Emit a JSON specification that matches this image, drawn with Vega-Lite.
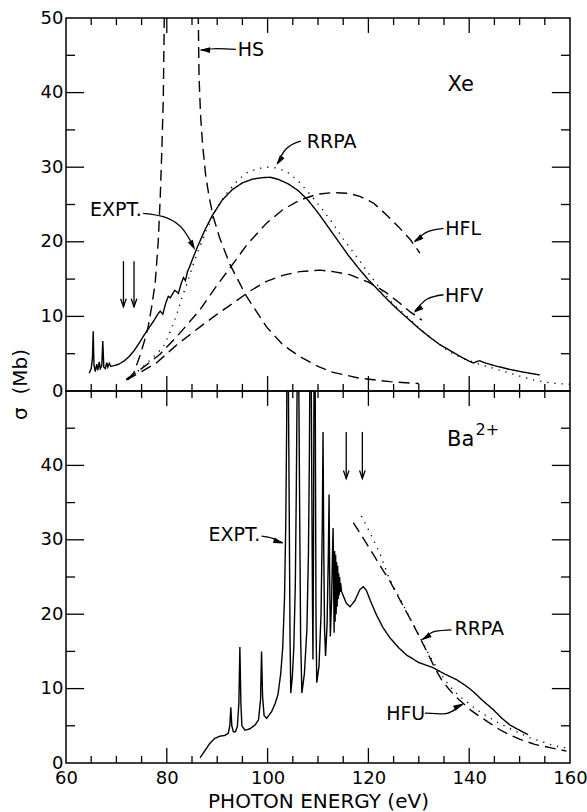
{
"$schema": "https://vega.github.io/schema/vega-lite/v6.json",
"padding": {"left": 9, "top": 8, "right": 5, "bottom": 0},
"background": "white",
"spacing": 0,
"bounds": "flush",
"resolve": {"scale": {"strokeDash": "independent"}},
"config": {
  "view": {"stroke": "black", "strokeWidth": 1.5},
  "concat": {"spacing": 0},
  "font": "DejaVu Sans",
  "axis": {"grid": false, "domain": false, "ticks": false, "labelFont": "DejaVu Sans", "labelFontSize": 18, "labelColor": "black", "labelFlush": false, "labelOverlap": false, "titleFont": "DejaVu Sans", "titleFontSize": 20, "titleFontWeight": "normal", "titleColor": "black"}
},
"datasets": {
  "vt": [
    {"x":80,"y":0,"y2":2},{"x":100,"y":0,"y2":2},{"x":120,"y":0,"y2":2},{"x":140,"y":0,"y2":2},
    {"x":80,"y":50,"y2":48},{"x":100,"y":50,"y2":48},{"x":120,"y":50,"y2":48},{"x":140,"y":50,"y2":48},
    {"x":65,"y":0,"y2":0.95},{"x":70,"y":0,"y2":0.95},{"x":75,"y":0,"y2":0.95},{"x":85,"y":0,"y2":0.95},{"x":90,"y":0,"y2":0.95},{"x":95,"y":0,"y2":0.95},{"x":105,"y":0,"y2":0.95},{"x":110,"y":0,"y2":0.95},{"x":115,"y":0,"y2":0.95},{"x":125,"y":0,"y2":0.95},{"x":130,"y":0,"y2":0.95},{"x":135,"y":0,"y2":0.95},{"x":145,"y":0,"y2":0.95},{"x":150,"y":0,"y2":0.95},{"x":155,"y":0,"y2":0.95},
    {"x":65,"y":50,"y2":49.05},{"x":70,"y":50,"y2":49.05},{"x":75,"y":50,"y2":49.05},{"x":85,"y":50,"y2":49.05},{"x":90,"y":50,"y2":49.05},{"x":95,"y":50,"y2":49.05},{"x":105,"y":50,"y2":49.05},{"x":110,"y":50,"y2":49.05},{"x":115,"y":50,"y2":49.05},{"x":125,"y":50,"y2":49.05},{"x":130,"y":50,"y2":49.05},{"x":135,"y":50,"y2":49.05},{"x":145,"y":50,"y2":49.05},{"x":150,"y":50,"y2":49.05},{"x":155,"y":50,"y2":49.05}
  ],
  "ht": [
    {"y":10,"x":60,"x2":63.6},{"y":20,"x":60,"x2":63.6},{"y":30,"x":60,"x2":63.6},{"y":40,"x":60,"x2":63.6},
    {"y":10,"x":160,"x2":156.4},{"y":20,"x":160,"x2":156.4},{"y":30,"x":160,"x2":156.4},{"y":40,"x":160,"x2":156.4},
    {"y":5,"x":60,"x2":61.8},{"y":15,"x":60,"x2":61.8},{"y":25,"x":60,"x2":61.8},{"y":35,"x":60,"x2":61.8},{"y":45,"x":60,"x2":61.8},
    {"y":5,"x":160,"x2":158.2},{"y":15,"x":160,"x2":158.2},{"y":25,"x":160,"x2":158.2},{"y":35,"x":160,"x2":158.2},{"y":45,"x":160,"x2":158.2}
  ],
  "xe": [
    {"s":"EXPT","x":64.6,"y":2.4},{"s":"EXPT","x":65.0,"y":3.0},{"s":"EXPT","x":65.25,"y":4.5},{"s":"EXPT","x":65.4,"y":8.0},{"s":"EXPT","x":65.55,"y":3.5},{"s":"EXPT","x":65.8,"y":2.6},{"s":"EXPT","x":66.1,"y":3.6},{"s":"EXPT","x":66.3,"y":2.8},{"s":"EXPT","x":66.6,"y":3.9},{"s":"EXPT","x":66.8,"y":3.0},{"s":"EXPT","x":67.1,"y":3.4},{"s":"EXPT","x":67.3,"y":6.7},{"s":"EXPT","x":67.5,"y":3.2},{"s":"EXPT","x":67.8,"y":3.0},{"s":"EXPT","x":68.1,"y":3.8},{"s":"EXPT","x":68.3,"y":3.2},{"s":"EXPT","x":68.6,"y":3.7},{"s":"EXPT","x":68.9,"y":3.3},{"s":"EXPT","x":69.5,"y":3.4},{"s":"EXPT","x":70.5,"y":3.6},{"s":"EXPT","x":71.5,"y":4.0},{"s":"EXPT","x":72.5,"y":4.6},{"s":"EXPT","x":73.5,"y":5.4},{"s":"EXPT","x":74.5,"y":6.4},{"s":"EXPT","x":75.5,"y":7.5},{"s":"EXPT","x":76.5,"y":8.5},{"s":"EXPT","x":77.5,"y":9.5},{"s":"EXPT","x":78.3,"y":10.4},{"s":"EXPT","x":78.7,"y":10.7},{"s":"EXPT","x":79.2,"y":10.3},{"s":"EXPT","x":79.8,"y":11.8},{"s":"EXPT","x":80.3,"y":12.7},{"s":"EXPT","x":80.7,"y":12.5},{"s":"EXPT","x":81.3,"y":13.2},{"s":"EXPT","x":81.6,"y":13.5},{"s":"EXPT","x":82.3,"y":13.1},{"s":"EXPT","x":82.9,"y":14.5},{"s":"EXPT","x":83.3,"y":15.2},{"s":"EXPT","x":83.7,"y":14.8},{"s":"EXPT","x":84.1,"y":16.0},{"s":"EXPT","x":84.5,"y":16.6},{"s":"EXPT","x":85.0,"y":17.5},{"s":"EXPT","x":86.0,"y":19.2},{"s":"EXPT","x":87.5,"y":21.5},{"s":"EXPT","x":89.0,"y":23.5},{"s":"EXPT","x":91.0,"y":25.6},{"s":"EXPT","x":93.0,"y":27.0},{"s":"EXPT","x":95.0,"y":27.9},{"s":"EXPT","x":97.0,"y":28.4},{"s":"EXPT","x":99.0,"y":28.6},{"s":"EXPT","x":100.5,"y":28.65},{"s":"EXPT","x":102.0,"y":28.4},{"s":"EXPT","x":104.0,"y":27.8},{"s":"EXPT","x":106.0,"y":26.9},{"s":"EXPT","x":108.0,"y":25.6},{"s":"EXPT","x":110.0,"y":23.9},{"s":"EXPT","x":112.0,"y":22.0},{"s":"EXPT","x":114.0,"y":20.1},{"s":"EXPT","x":116.0,"y":18.2},{"s":"EXPT","x":118.0,"y":16.5},{"s":"EXPT","x":120.0,"y":14.9},{"s":"EXPT","x":122.0,"y":13.5},{"s":"EXPT","x":124.0,"y":12.1},{"s":"EXPT","x":126.0,"y":10.8},{"s":"EXPT","x":128.0,"y":9.6},{"s":"EXPT","x":130.0,"y":8.4},{"s":"EXPT","x":132.0,"y":7.3},{"s":"EXPT","x":134.0,"y":6.3},{"s":"EXPT","x":136.0,"y":5.5},{"s":"EXPT","x":138.0,"y":4.7},{"s":"EXPT","x":140.0,"y":4.0},{"s":"EXPT","x":140.8,"y":3.75},{"s":"EXPT","x":141.5,"y":3.95},{"s":"EXPT","x":142.1,"y":4.05},{"s":"EXPT","x":143.0,"y":3.8},{"s":"EXPT","x":145.0,"y":3.4},{"s":"EXPT","x":148.0,"y":2.9},{"s":"EXPT","x":151.0,"y":2.5},{"s":"EXPT","x":154.0,"y":2.15},
    {"s":"RRPA","x":72.0,"y":1.5},{"s":"RRPA","x":74.0,"y":2.5},{"s":"RRPA","x":76.0,"y":3.7},{"s":"RRPA","x":78.0,"y":5.0},{"s":"RRPA","x":79.3,"y":5.9},{"s":"RRPA","x":80.0,"y":6.9},{"s":"RRPA","x":81.0,"y":8.5},{"s":"RRPA","x":82.0,"y":10.3},{"s":"RRPA","x":83.0,"y":12.5},{"s":"RRPA","x":84.0,"y":14.4},{"s":"RRPA","x":85.0,"y":16.5},{"s":"RRPA","x":86.0,"y":18.4},{"s":"RRPA","x":88.0,"y":21.8},{"s":"RRPA","x":90.0,"y":24.6},{"s":"RRPA","x":92.0,"y":26.6},{"s":"RRPA","x":94.0,"y":28.2},{"s":"RRPA","x":96.0,"y":29.3},{"s":"RRPA","x":98.0,"y":29.8},{"s":"RRPA","x":100.0,"y":30.0},{"s":"RRPA","x":102.0,"y":29.9},{"s":"RRPA","x":104.0,"y":29.3},{"s":"RRPA","x":106.0,"y":28.2},{"s":"RRPA","x":108.0,"y":26.7},{"s":"RRPA","x":110.7,"y":24.5},{"s":"RRPA","x":113.0,"y":22.4},{"s":"RRPA","x":115.0,"y":20.4},{"s":"RRPA","x":118.0,"y":17.7},{"s":"RRPA","x":120.0,"y":15.8},{"s":"RRPA","x":122.0,"y":14.0},{"s":"RRPA","x":125.0,"y":11.6},{"s":"RRPA","x":128.3,"y":9.6},{"s":"RRPA","x":130.2,"y":8.3},{"s":"RRPA","x":133.0,"y":6.8},{"s":"RRPA","x":136.0,"y":5.3},{"s":"RRPA","x":139.0,"y":4.3},{"s":"RRPA","x":142.0,"y":3.6},{"s":"RRPA","x":146.0,"y":2.8},{"s":"RRPA","x":150.0,"y":2.0},{"s":"RRPA","x":152.6,"y":1.5},{"s":"RRPA","x":155.0,"y":1.2},{"s":"RRPA","x":157.4,"y":1.0},{"s":"RRPA","x":160.0,"y":0.9},
    {"s":"HFL","x":72.0,"y":1.6},{"s":"HFL","x":75.0,"y":3.0},{"s":"HFL","x":78.6,"y":4.9},{"s":"HFL","x":82.0,"y":7.3},{"s":"HFL","x":86.6,"y":10.9},{"s":"HFL","x":90.0,"y":14.2},{"s":"HFL","x":93.2,"y":17.1},{"s":"HFL","x":96.0,"y":19.7},{"s":"HFL","x":99.8,"y":22.5},{"s":"HFL","x":103.0,"y":24.3},{"s":"HFL","x":106.4,"y":25.6},{"s":"HFL","x":110.0,"y":26.4},{"s":"HFL","x":113.0,"y":26.6},{"s":"HFL","x":116.0,"y":26.5},{"s":"HFL","x":118.3,"y":26.1},{"s":"HFL","x":121.0,"y":25.2},{"s":"HFL","x":123.3,"y":23.8},{"s":"HFL","x":126.0,"y":22.0},{"s":"HFL","x":128.3,"y":20.3},{"s":"HFL","x":130.2,"y":18.5},
    {"s":"HFV","x":72.0,"y":1.5},{"s":"HFV","x":75.0,"y":2.6},{"s":"HFV","x":78.0,"y":3.8},{"s":"HFV","x":82.0,"y":6.2},{"s":"HFV","x":86.6,"y":8.6},{"s":"HFV","x":90.0,"y":10.3},{"s":"HFV","x":93.2,"y":11.8},{"s":"HFV","x":96.5,"y":13.4},{"s":"HFV","x":99.8,"y":14.7},{"s":"HFV","x":103.0,"y":15.5},{"s":"HFV","x":106.4,"y":16.0},{"s":"HFV","x":110.4,"y":16.2},{"s":"HFV","x":113.0,"y":16.0},{"s":"HFV","x":116.3,"y":15.6},{"s":"HFV","x":120.0,"y":14.6},{"s":"HFV","x":123.3,"y":13.3},{"s":"HFV","x":126.0,"y":11.9},{"s":"HFV","x":128.3,"y":10.6},{"s":"HFV","x":130.6,"y":9.5},
    {"s":"HS","x":72.3,"y":1.5},{"s":"HS","x":73.5,"y":2.5},{"s":"HS","x":74.7,"y":4.8},{"s":"HS","x":75.6,"y":6.8},{"s":"HS","x":76.3,"y":8.6},{"s":"HS","x":77.0,"y":11.3},{"s":"HS","x":77.7,"y":14.5},{"s":"HS","x":78.3,"y":20.0},{"s":"HS","x":78.7,"y":26.0},{"s":"HS","x":79.0,"y":32.0},{"s":"HS","x":79.3,"y":39.0},{"s":"HS","x":79.5,"y":50.0},{"s":"HS","x":79.6,"y":60.0},{"s":"HS","x":86.15,"y":60.0},{"s":"HS","x":86.25,"y":50.0},{"s":"HS","x":86.4,"y":42.0},{"s":"HS","x":86.7,"y":37.0},{"s":"HS","x":87.1,"y":33.0},{"s":"HS","x":87.7,"y":29.0},{"s":"HS","x":88.4,"y":26.0},{"s":"HS","x":89.2,"y":23.4},{"s":"HS","x":90.5,"y":20.5},{"s":"HS","x":92.5,"y":17.0},{"s":"HS","x":95.8,"y":12.7},{"s":"HS","x":99.8,"y":8.6},{"s":"HS","x":103.0,"y":6.2},{"s":"HS","x":106.4,"y":4.6},{"s":"HS","x":110.0,"y":3.3},{"s":"HS","x":113.0,"y":2.5},{"s":"HS","x":118.0,"y":1.75},{"s":"HS","x":124.3,"y":1.25},{"s":"HS","x":130.0,"y":1.0}
  ],
  "ba": [
    {"s":"EXPT","x":86.6,"y":0.7},{"s":"EXPT","x":87.5,"y":1.6},{"s":"EXPT","x":88.5,"y":2.6},{"s":"EXPT","x":89.5,"y":3.3},{"s":"EXPT","x":90.5,"y":3.6},{"s":"EXPT","x":91.5,"y":3.7},{"s":"EXPT","x":92.2,"y":4.0},{"s":"EXPT","x":92.5,"y":5.0},{"s":"EXPT","x":92.7,"y":7.5},{"s":"EXPT","x":92.9,"y":5.0},{"s":"EXPT","x":93.2,"y":4.2},{"s":"EXPT","x":93.6,"y":4.2},{"s":"EXPT","x":94.0,"y":4.9},{"s":"EXPT","x":94.3,"y":8.0},{"s":"EXPT","x":94.5,"y":15.6},{"s":"EXPT","x":94.7,"y":8.0},{"s":"EXPT","x":94.9,"y":5.0},{"s":"EXPT","x":95.5,"y":4.4},{"s":"EXPT","x":96.5,"y":4.6},{"s":"EXPT","x":97.5,"y":5.1},{"s":"EXPT","x":98.2,"y":5.8},{"s":"EXPT","x":98.6,"y":8.5},{"s":"EXPT","x":98.8,"y":15.0},{"s":"EXPT","x":99.0,"y":9.0},{"s":"EXPT","x":99.3,"y":6.4},{"s":"EXPT","x":99.8,"y":6.0},{"s":"EXPT","x":100.8,"y":6.9},{"s":"EXPT","x":101.5,"y":8.0},{"s":"EXPT","x":102.06,"y":9.2},{"s":"EXPT","x":102.6,"y":12.0},{"s":"EXPT","x":103.0,"y":15.5},{"s":"EXPT","x":103.35,"y":22},{"s":"EXPT","x":103.6,"y":32},{"s":"EXPT","x":103.78,"y":45},{"s":"EXPT","x":103.9,"y":60},{"s":"EXPT","x":104.05,"y":60},{"s":"EXPT","x":104.15,"y":48},{"s":"EXPT","x":104.3,"y":33},{"s":"EXPT","x":104.45,"y":17},{"s":"EXPT","x":104.6,"y":9.4},{"s":"EXPT","x":104.9,"y":11.5},{"s":"EXPT","x":105.2,"y":15.5},{"s":"EXPT","x":105.5,"y":24},{"s":"EXPT","x":105.7,"y":37},{"s":"EXPT","x":105.85,"y":50},{"s":"EXPT","x":105.95,"y":60},{"s":"EXPT","x":106.1,"y":60},{"s":"EXPT","x":106.2,"y":50},{"s":"EXPT","x":106.35,"y":35},{"s":"EXPT","x":106.55,"y":17},{"s":"EXPT","x":106.8,"y":9.4},{"s":"EXPT","x":107.3,"y":12.0},{"s":"EXPT","x":107.8,"y":18.0},{"s":"EXPT","x":108.1,"y":28},{"s":"EXPT","x":108.3,"y":42},{"s":"EXPT","x":108.45,"y":60},{"s":"EXPT","x":108.6,"y":60},{"s":"EXPT","x":108.75,"y":40},{"s":"EXPT","x":108.9,"y":22},{"s":"EXPT","x":109.0,"y":13.9},{"s":"EXPT","x":109.1,"y":28},{"s":"EXPT","x":109.2,"y":50},{"s":"EXPT","x":109.25,"y":60},{"s":"EXPT","x":109.4,"y":60},{"s":"EXPT","x":109.5,"y":40},{"s":"EXPT","x":109.6,"y":20},{"s":"EXPT","x":109.75,"y":10.8},{"s":"EXPT","x":110.2,"y":13.0},{"s":"EXPT","x":110.6,"y":20},{"s":"EXPT","x":110.85,"y":32},{"s":"EXPT","x":111.0,"y":44.5},{"s":"EXPT","x":111.15,"y":28},{"s":"EXPT","x":111.3,"y":18},{"s":"EXPT","x":111.5,"y":14.4},{"s":"EXPT","x":111.8,"y":18.5},{"s":"EXPT","x":112.05,"y":28},{"s":"EXPT","x":112.2,"y":36.1},{"s":"EXPT","x":112.3,"y":26},{"s":"EXPT","x":112.45,"y":17.0},{"s":"EXPT","x":112.7,"y":22},{"s":"EXPT","x":112.9,"y":29},{"s":"EXPT","x":113.0,"y":31.6},{"s":"EXPT","x":113.1,"y":24},{"s":"EXPT","x":113.2,"y":17.5},{"s":"EXPT","x":113.3,"y":28.5},{"s":"EXPT","x":113.4,"y":19},{"s":"EXPT","x":113.5,"y":28},{"s":"EXPT","x":113.6,"y":20},{"s":"EXPT","x":113.7,"y":27},{"s":"EXPT","x":113.8,"y":21},{"s":"EXPT","x":113.9,"y":26.5},{"s":"EXPT","x":114.0,"y":22},{"s":"EXPT","x":114.1,"y":25.5},{"s":"EXPT","x":114.2,"y":22.5},{"s":"EXPT","x":114.3,"y":25},{"s":"EXPT","x":114.4,"y":23},{"s":"EXPT","x":114.5,"y":24.2},{"s":"EXPT","x":114.65,"y":23.1},{"s":"EXPT","x":115.0,"y":22.5},{"s":"EXPT","x":115.6,"y":21.5},{"s":"EXPT","x":116.35,"y":21.0},{"s":"EXPT","x":117.3,"y":21.8},{"s":"EXPT","x":118.3,"y":23.3},{"s":"EXPT","x":119.0,"y":23.7},{"s":"EXPT","x":119.6,"y":23.2},{"s":"EXPT","x":120.4,"y":21.8},{"s":"EXPT","x":121.6,"y":19.9},{"s":"EXPT","x":122.9,"y":18.2},{"s":"EXPT","x":124.3,"y":16.8},{"s":"EXPT","x":126.0,"y":15.5},{"s":"EXPT","x":127.6,"y":14.5},{"s":"EXPT","x":130.0,"y":13.5},{"s":"EXPT","x":132.9,"y":12.8},{"s":"EXPT","x":135.0,"y":12.0},{"s":"EXPT","x":137.5,"y":11.2},{"s":"EXPT","x":139.5,"y":10.3},{"s":"EXPT","x":140.8,"y":9.6},{"s":"EXPT","x":142.5,"y":8.5},{"s":"EXPT","x":144.8,"y":7.15},{"s":"EXPT","x":146.5,"y":6.0},{"s":"EXPT","x":148.1,"y":5.1},{"s":"EXPT","x":150.0,"y":4.4},{"s":"EXPT","x":151.7,"y":3.8},
    {"s":"RRPA","x":117.0,"y":32.3},{"s":"RRPA","x":119.0,"y":30.2},{"s":"RRPA","x":121.0,"y":28.0},{"s":"RRPA","x":123.0,"y":25.8},{"s":"RRPA","x":124.3,"y":24.4},{"s":"RRPA","x":126.5,"y":21.6},{"s":"RRPA","x":128.9,"y":18.6},{"s":"RRPA","x":131.0,"y":15.8},{"s":"RRPA","x":133.2,"y":12.75},{"s":"RRPA","x":134.5,"y":11.2},{"s":"RRPA","x":136.0,"y":9.9},{"s":"RRPA","x":137.5,"y":8.8},{"s":"RRPA","x":139.0,"y":7.9},{"s":"RRPA","x":140.5,"y":7.0},{"s":"RRPA","x":142.0,"y":6.3},{"s":"RRPA","x":144.0,"y":5.4},{"s":"RRPA","x":146.0,"y":4.5},{"s":"RRPA","x":148.0,"y":3.8},{"s":"RRPA","x":150.0,"y":3.2},{"s":"RRPA","x":153.0,"y":2.5},{"s":"RRPA","x":156.5,"y":2.0},{"s":"RRPA","x":159.3,"y":1.6},
    {"s":"HFU","x":118.6,"y":33.2},{"s":"HFU","x":119.7,"y":31.8},{"s":"HFU","x":121.0,"y":30.0},{"s":"HFU","x":122.5,"y":27.8},{"s":"HFU","x":124.0,"y":25.0},{"s":"HFU","x":126.0,"y":22.4},{"s":"HFU","x":128.0,"y":19.8},{"s":"HFU","x":130.0,"y":17.2},{"s":"HFU","x":132.0,"y":14.6},{"s":"HFU","x":134.0,"y":12.3},{"s":"HFU","x":136.0,"y":10.4},{"s":"HFU","x":138.0,"y":9.0},{"s":"HFU","x":139.2,"y":8.4},{"s":"HFU","x":141.0,"y":7.4},{"s":"HFU","x":143.0,"y":6.5},{"s":"HFU","x":146.0,"y":5.3},{"s":"HFU","x":150.1,"y":4.0},{"s":"HFU","x":152.0,"y":3.4},{"s":"HFU","x":154.7,"y":2.8},{"s":"HFU","x":157.0,"y":2.3},{"s":"HFU","x":159.3,"y":2.0}
  ],
  "xeText": [{"t":"HS","x":96.7,"y":45.7},{"t":"RRPA","x":112.7,"y":33.4},{"t":"EXPT.","x":69.9,"y":24.2},{"t":"HFL","x":138.8,"y":21.7},{"t":"HFV","x":139.0,"y":12.75}],
  "xeName": [{"t":"Xe","x":138.3,"y":41.0}],
  "xeLead": [
    {"id":"hs","x":86.7,"y":45.7},{"id":"hs","x":90.0,"y":45.9},{"id":"hs","x":93.7,"y":45.8},
    {"id":"ex","x":75.3,"y":23.8},{"id":"ex","x":80.0,"y":23.2},{"id":"ex","x":83.3,"y":21.6},{"id":"ex","x":85.4,"y":19.3},
    {"id":"rr","x":101.9,"y":30.5},{"id":"rr","x":103.6,"y":32.4},{"id":"rr","x":106.6,"y":33.5},
    {"id":"hl","x":129.2,"y":20.1},{"id":"hl","x":131.6,"y":21.3},{"id":"hl","x":134.9,"y":21.8},
    {"id":"hv","x":129.2,"y":10.7},{"id":"hv","x":131.6,"y":12.3},{"id":"hv","x":134.9,"y":12.9}
  ],
  "xeHead": [{"x":86.6,"y":45.7,"h":270},{"x":85.6,"y":18.9,"h":152},{"x":101.8,"y":30.3,"h":214},{"x":129.0,"y":19.9,"h":233},{"x":129.0,"y":10.5,"h":233}],
  "xeThr": [{"x":71.4,"y":17.4,"y2":11.3},{"x":73.5,"y":17.4,"y2":11.3}],
  "baText": [{"t":"EXPT.","x":93.4,"y":30.6},{"t":"RRPA","x":142.0,"y":18.0},{"t":"HFU","x":127.4,"y":6.6}],
  "baName": [{"t":"Ba","x":138.3,"y":43.4}],
  "baSup": [{"t":"2+","x":143.6,"y":44.8}],
  "baLead": [
    {"id":"ex","x":98.8,"y":30.5},{"id":"ex","x":101.0,"y":30.2},{"id":"ex","x":103.0,"y":29.6},
    {"id":"rr","x":130.7,"y":16.6},{"id":"rr","x":133.2,"y":17.7},{"id":"rr","x":136.5,"y":17.9},
    {"id":"hu","x":131.2,"y":6.7},{"id":"hu","x":134.9,"y":6.6},{"id":"hu","x":138.7,"y":7.9}
  ],
  "baHead": [{"x":103.1,"y":29.5,"h":109},{"x":130.6,"y":16.5,"h":236},{"x":138.8,"y":8.0,"h":62}],
  "baThr": [{"x":115.6,"y":44.5,"y2":38.25},{"x":118.8,"y":44.5,"y2":38.25}]
},
"vconcat": [
  {
    "width": 504, "height": 373,
    "layer": [
      {
        "data": {"name": "xe"},
        "mark": {"type": "line", "clip": true, "strokeWidth": 1.4, "color": "black"},
        "encoding": {
          "x": {"field": "x", "type": "quantitative", "scale": {"domain": [60, 160], "nice": false, "zero": false}, "axis": null},
          "y": {"field": "y", "type": "quantitative", "scale": {"domain": [0, 50], "nice": false, "zero": false}, "axis": {"orient": "left", "values": [0, 10, 20, 30, 40, 50], "labelPadding": 3, "title": "σ\u00a0\u00a0(Mb)", "titleX": -36, "titleY": 366}},
          "detail": {"field": "s"},
          "strokeDash": {"field": "s", "type": "nominal", "scale": {"domain": ["EXPT", "RRPA", "HFL", "HFV", "HS"], "range": [[1, 0], [1.2, 6], [11, 6], [11, 6], [11, 6]]}, "legend": null}
        }
      },
      {"data": {"name": "vt"}, "mark": {"type": "rule", "strokeWidth": 1.3, "color": "black"}, "encoding": {"x": {"field": "x", "type": "quantitative"}, "y": {"field": "y", "type": "quantitative"}, "y2": {"field": "y2"}}},
      {"data": {"name": "ht"}, "mark": {"type": "rule", "strokeWidth": 1.3, "color": "black"}, "encoding": {"y": {"field": "y", "type": "quantitative"}, "x": {"field": "x", "type": "quantitative"}, "x2": {"field": "x2"}}},
      {
        "data": {"name": "xeText"},
        "mark": {"type": "text", "font": "DejaVu Sans", "fontSize": 19, "color": "black", "align": "center", "baseline": "middle"},
        "encoding": {"x": {"field": "x", "type": "quantitative"}, "y": {"field": "y", "type": "quantitative"}, "text": {"field": "t"}}
      },
      {
        "data": {"name": "xeName"},
        "mark": {"type": "text", "font": "DejaVu Sans", "fontSize": 21, "color": "black", "align": "center", "baseline": "middle"},
        "encoding": {"x": {"field": "x", "type": "quantitative"}, "y": {"field": "y", "type": "quantitative"}, "text": {"field": "t"}}
      },
      {
        "data": {"name": "xeLead"},
        "mark": {"type": "line", "interpolate": "monotone", "strokeWidth": 1.3, "color": "black"},
        "encoding": {"x": {"field": "x", "type": "quantitative"}, "y": {"field": "y", "type": "quantitative"}, "detail": {"field": "id"}}
      },
      {
        "data": {"name": "xeHead"},
        "mark": {"type": "point", "shape": "M0,0L-0.28,1L0.28,1Z", "filled": true, "size": 400, "color": "black", "opacity": 1},
        "encoding": {"x": {"field": "x", "type": "quantitative"}, "y": {"field": "y", "type": "quantitative"}, "angle": {"field": "h", "type": "quantitative", "scale": null}}
      },
      {
        "data": {"name": "xeThr"},
        "mark": {"type": "rule", "strokeWidth": 1.3, "color": "black"},
        "encoding": {"x": {"field": "x", "type": "quantitative"}, "y": {"field": "y", "type": "quantitative"}, "y2": {"field": "y2"}}
      },
      {
        "data": {"name": "xeThr"},
        "mark": {"type": "point", "shape": "M-0.35,-1L0,0L0.35,-1", "filled": false, "size": 256, "color": "black", "strokeWidth": 1.3, "opacity": 1},
        "encoding": {"x": {"field": "x", "type": "quantitative"}, "y": {"field": "y2", "type": "quantitative"}}
      }
    ]
  },
  {
    "width": 504, "height": 372,
    "layer": [
      {
        "data": {"name": "ba"},
        "mark": {"type": "line", "clip": true, "strokeWidth": 1.4, "color": "black"},
        "encoding": {
          "x": {"field": "x", "type": "quantitative", "scale": {"domain": [60, 160], "nice": false, "zero": false}, "axis": {"orient": "bottom", "values": [60, 80, 100, 120, 140, 160], "labelPadding": 6, "title": "PHOTON ENERGY (eV)", "titlePadding": 4}},
          "y": {"field": "y", "type": "quantitative", "scale": {"domain": [0, 50], "nice": false, "zero": false}, "axis": {"orient": "left", "values": [0, 10, 20, 30, 40], "labelPadding": 3, "title": null}},
          "detail": {"field": "s"},
          "strokeDash": {"field": "s", "type": "nominal", "scale": {"domain": ["EXPT", "RRPA", "HFU"], "range": [[1, 0], [11, 6], [1.2, 6]]}, "legend": null}
        }
      },
      {"data": {"name": "vt"}, "mark": {"type": "rule", "strokeWidth": 1.3, "color": "black"}, "encoding": {"x": {"field": "x", "type": "quantitative"}, "y": {"field": "y", "type": "quantitative"}, "y2": {"field": "y2"}}},
      {"data": {"name": "ht"}, "mark": {"type": "rule", "strokeWidth": 1.3, "color": "black"}, "encoding": {"y": {"field": "y", "type": "quantitative"}, "x": {"field": "x", "type": "quantitative"}, "x2": {"field": "x2"}}},
      {
        "data": {"name": "baText"},
        "mark": {"type": "text", "font": "DejaVu Sans", "fontSize": 19, "color": "black", "align": "center", "baseline": "middle"},
        "encoding": {"x": {"field": "x", "type": "quantitative"}, "y": {"field": "y", "type": "quantitative"}, "text": {"field": "t"}}
      },
      {
        "data": {"name": "baName"},
        "mark": {"type": "text", "font": "DejaVu Sans", "fontSize": 21, "color": "black", "align": "center", "baseline": "middle"},
        "encoding": {"x": {"field": "x", "type": "quantitative"}, "y": {"field": "y", "type": "quantitative"}, "text": {"field": "t"}}
      },
      {
        "data": {"name": "baSup"},
        "mark": {"type": "text", "font": "DejaVu Sans", "fontSize": 16, "color": "black", "align": "center", "baseline": "middle"},
        "encoding": {"x": {"field": "x", "type": "quantitative"}, "y": {"field": "y", "type": "quantitative"}, "text": {"field": "t"}}
      },
      {
        "data": {"name": "baLead"},
        "mark": {"type": "line", "interpolate": "monotone", "strokeWidth": 1.3, "color": "black"},
        "encoding": {"x": {"field": "x", "type": "quantitative"}, "y": {"field": "y", "type": "quantitative"}, "detail": {"field": "id"}}
      },
      {
        "data": {"name": "baHead"},
        "mark": {"type": "point", "shape": "M0,0L-0.28,1L0.28,1Z", "filled": true, "size": 400, "color": "black", "opacity": 1},
        "encoding": {"x": {"field": "x", "type": "quantitative"}, "y": {"field": "y", "type": "quantitative"}, "angle": {"field": "h", "type": "quantitative", "scale": null}}
      },
      {
        "data": {"name": "baThr"},
        "mark": {"type": "rule", "strokeWidth": 1.3, "color": "black"},
        "encoding": {"x": {"field": "x", "type": "quantitative"}, "y": {"field": "y", "type": "quantitative"}, "y2": {"field": "y2"}}
      },
      {
        "data": {"name": "baThr"},
        "mark": {"type": "point", "shape": "M-0.35,-1L0,0L0.35,-1", "filled": false, "size": 256, "color": "black", "strokeWidth": 1.3, "opacity": 1},
        "encoding": {"x": {"field": "x", "type": "quantitative"}, "y": {"field": "y2", "type": "quantitative"}}
      }
    ]
  }
]
}
